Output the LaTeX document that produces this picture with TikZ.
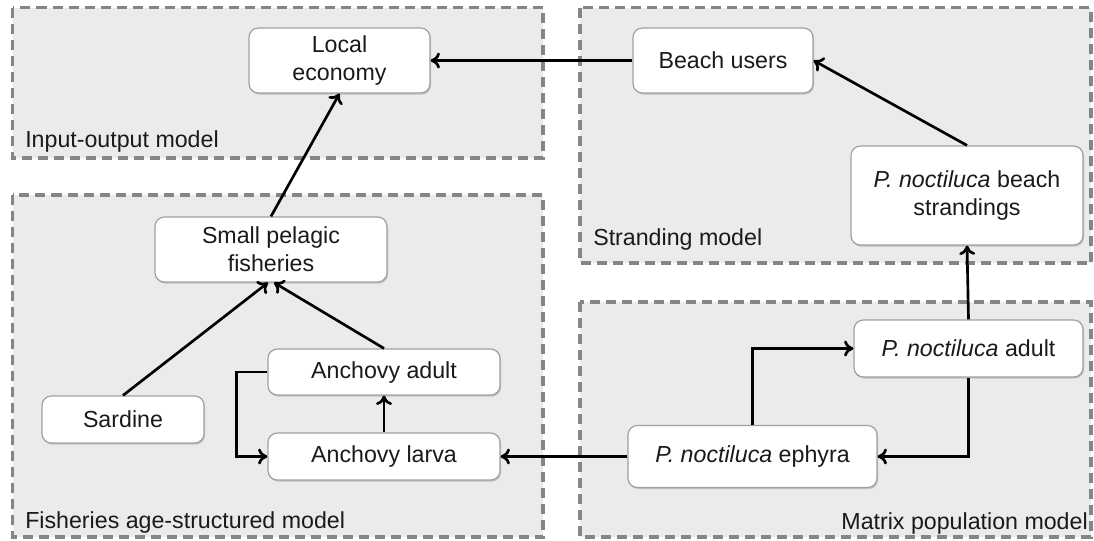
\documentclass[tikz,border=0pt]{standalone}
\usepackage{fontspec}
\setmainfont{Liberation Sans}
\usetikzlibrary{arrows.meta,shadows,calc}
\definecolor{panelfill}{HTML}{EBEBEB}
\definecolor{paneldash}{HTML}{858585}
\definecolor{boxline}{HTML}{A0A0A0}
\definecolor{txt}{HTML}{1A1A1A}
\begin{document}
\begin{tikzpicture}[x=0.75pt,y=-0.75pt,
  panel/.style={fill=panelfill,draw=paneldash,line width=2.3pt,dash pattern=on 7.5pt off 4.5pt},
  paneltitle/.style={anchor=base west,inner sep=0pt,text=txt,font=\fontsize{17.4}{21}\selectfont},
  entity/.style={draw=boxline,line width=0.9pt,fill=white,rounded corners=7pt,
    align=center,text=txt,font=\fontsize{17.4}{21}\selectfont,inner sep=0pt,
    drop shadow={shadow xshift=0.8pt,shadow yshift=-1.2pt,opacity=0.3,fill=black!60}},
  link/.style={line width=2pt,-{Computer Modern Rightarrow[length=7pt,width=12pt,line width=2pt]}}
]
\useasboundingbox (0,0) rectangle (1094,540);
\fill[white] (0,0) rectangle (1094,540);
% panels
\draw[panel] (12.5,7.5) rectangle (543,158);
\draw[panel] (580,7.5) rectangle (1091,263);
\draw[panel] (12.5,195) rectangle (543,537);
\draw[panel] (580,302) rectangle (1091,537);
\node[paneltitle] (tio) at (25,147) {Input-output model};
\node[paneltitle] (tst) at (593,245) {Stranding model};
\node[paneltitle] (tfi) at (25,528) {Fisheries age-structured model};
\node[paneltitle,anchor=base east] (tmp) at (1088,529) {Matrix population model};
% nodes
\node[entity,minimum width=135.75pt,minimum height=48.75pt] (loc) at (339.5,60.5) {Local\\economy};
\node[entity,minimum width=135pt,minimum height=48.75pt] (beach) at (723,60.5) {Beach users};
\node[entity,minimum width=174pt,minimum height=74.25pt] (strand) at (967,195.5) {\textit{P. noctiluca} beach\\strandings};
\node[entity,minimum width=174pt,minimum height=48.75pt] (small) at (271,249.5) {Small pelagic\\fisheries};
\node[entity,minimum width=121.5pt,minimum height=35.25pt] (sard) at (123,419.5) {Sardine};
\node[entity,minimum width=174pt,minimum height=34.5pt] (aadult) at (384,372) {Anchovy adult};
\node[entity,minimum width=174pt,minimum height=35.25pt] (alarva) at (384,456.5) {Anchovy larva};
\node[entity,minimum width=186.75pt,minimum height=46.5pt] (eph) at (752.5,456.5) {\textit{P. noctiluca} ephyra};
\node[entity,minimum width=171.75pt,minimum height=42.75pt] (padult) at (968.5,348.5) {\textit{P. noctiluca} adult};
% links
\draw[link] (beach.west) -- (loc.east);
\draw[link] (strand.north) -- (beach.east);
\draw[link] (small.north) -- (loc.south);
\draw[link] (sard.north) -- ($(small.south)+(-3,0)$);
\draw[link] (aadult.north) -- ($(small.south)+(3,0)$);
\draw[link] (alarva.north) -- (aadult.south);
\draw[link] (aadult.west) -- ++(-31,0) |- (alarva.west);
\draw[link] (eph.west) -- (alarva.east);
\draw[link] (eph.north) |- (padult.west);
\draw[link] (padult.south) |- (eph.east);
\draw[link] (padult.north) -- (strand.south);
\end{tikzpicture}
\end{document}
